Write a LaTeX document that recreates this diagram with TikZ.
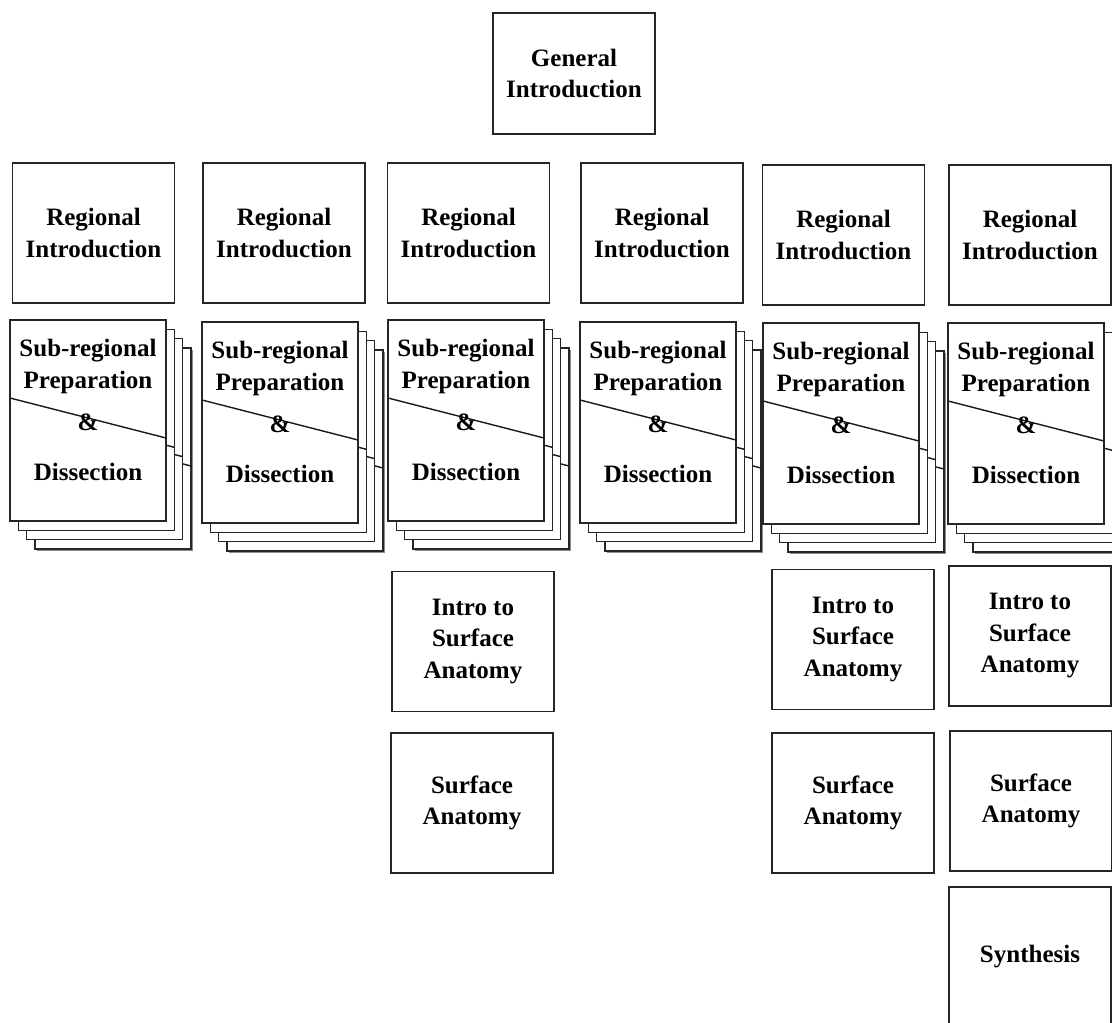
\documentclass[tikz,border=0pt]{standalone}
\usepackage{fontspec}
\setmainfont{Liberation Serif}
\begin{document}
\begin{tikzpicture}[x=1pt,y=-1pt,
  box/.style={draw=black!85, line width=1.8pt, fill=white, outer sep=0pt,
    minimum width=162pt, minimum height=140pt, align=center, inner sep=0pt,
    font=\bfseries\fontsize{25}{31.5}\selectfont},
  card/.style={draw=black!85, line width=1.4pt, fill=white, outer sep=0pt,
    minimum width=156pt, minimum height=201pt, inner sep=0pt},
  cardline/.style={draw=black!90, line width=1.4pt},
  lbl/.style={align=center, inner sep=0pt, font=\bfseries\fontsize{25}{32}\selectfont},
]
\useasboundingbox (0,0) rectangle (1112,1023);
\fill[white] (0,0) rectangle (1112,1023);

\newcommand\cardstack[3]{%
  \fill[black!45] (#2+27,#3+30) rectangle ++(156,201);
  \foreach \k/\dx/\dy in {3/25/28,2/16.5/18.6,1/8.3/9.3,0/0/0}{%
    \node[card, anchor=north west] (#1c\k) at (#2+\dx,#3+\dy) {};
    \draw[cardline] ([yshift=-78pt]#1c\k.north west) -- ([yshift=-118pt]#1c\k.north east);
  }
  \node[lbl] (#1t) at (#2+78,#3+46) {Sub-regional\\Preparation};
  \node[lbl] (#1amp) at (#2+78,#3+102) {\&};
  \node[lbl] (#1d) at (#2+78,#3+152) {Dissection};
}

% general introduction
\node[box, minimum height=121pt] (gen) at (574,73.5) {General\\Introduction};

% regional introductions
\node[box] (r1) at (93.5,233) {Regional\\Introduction};
\node[box] (r2) at (284,233) {Regional\\Introduction};
\node[box] (r3) at (468.5,233) {Regional\\Introduction};
\node[box] (r4) at (662,233) {Regional\\Introduction};
\node[box] (r5) at (843.5,235) {Regional\\Introduction};
\node[box] (r6) at (1030,235) {Regional\\Introduction};

% sub-regional stacks
\cardstack{sa}{10}{320}
\cardstack{sb}{202}{322}
\cardstack{sc}{388}{320}
\cardstack{sd}{580}{322}
\cardstack{se}{763}{323}
\cardstack{sf}{948}{323}

% lower boxes
\node[box] (i3) at (473,641.5) {Intro to\\Surface\\Anatomy};
\node[box] (s3) at (472,803) {Surface\\Anatomy};
\node[box] (i5) at (853,639.5) {Intro to\\Surface\\Anatomy};
\node[box] (s5) at (853,803) {Surface\\Anatomy};
\node[box] (i6) at (1030,636) {Intro to\\Surface\\Anatomy};
\node[box] (s6) at (1031,801) {Surface\\Anatomy};
\node[box] (syn) at (1030,957) {Synthesis};
\end{tikzpicture}
\end{document}
